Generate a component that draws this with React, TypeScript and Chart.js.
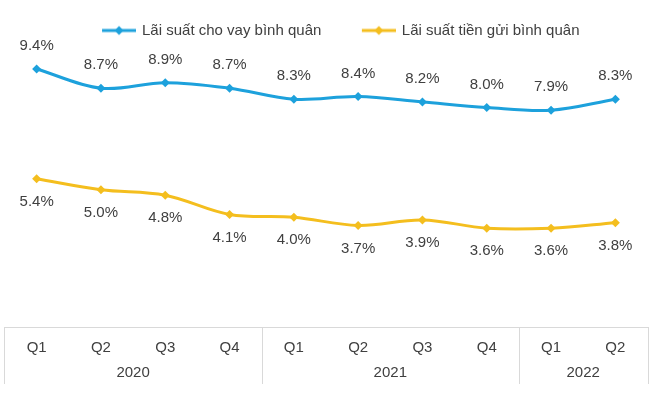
import { useEffect, useRef } from 'react';
import { Chart, registerables } from 'chart.js';

Chart.register(...registerables);

const quarters = ['Q1', 'Q2', 'Q3', 'Q4', 'Q1', 'Q2', 'Q3', 'Q4', 'Q1', 'Q2'];
const years = ['2020', '2021', '2022'];
const yearSpans = [4, 4, 2];
const lendingRates = [9.4, 8.7, 8.9, 8.7, 8.3, 8.4, 8.2, 8.0, 7.9, 8.3];
const depositRates = [5.4, 5.0, 4.8, 4.1, 4.0, 3.7, 3.9, 3.6, 3.6, 3.8];
const seriesNames = ['Lãi suất cho vay bình quân', 'Lãi suất tiền gửi bình quân'];
const seriesColors = ['#1DA1DC', '#F4BE1E'];

const FONT = "'Liberation Sans', Arial, sans-serif";
const FS = 15;
const TEXT = '#404040';
const GRID = '#D9D9D9';

function legendMarker(color: string): HTMLCanvasElement {
  const G = 29, L = 34, H = 12;
  const c = document.createElement('canvas');
  c.width = G + L;
  c.height = H;
  const ctx = c.getContext('2d')!;
  ctx.strokeStyle = color;
  ctx.lineWidth = 3;
  ctx.beginPath();
  ctx.moveTo(G, H / 2);
  ctx.lineTo(G + L, H / 2);
  ctx.stroke();
  ctx.fillStyle = color;
  const cx = G + L / 2, cy = H / 2, r = 4.5;
  ctx.beginPath();
  ctx.moveTo(cx, cy - r);
  ctx.lineTo(cx + r, cy);
  ctx.lineTo(cx, cy + r);
  ctx.lineTo(cx - r, cy);
  ctx.closePath();
  ctx.fill();
  return c;
}

const legendGap = {
  id: 'legendGap',
  afterInit(chart: any) {
    const lg = chart.legend;
    if (lg && !lg.__patched) {
      const orig = lg.fit.bind(lg);
      lg.fit = function () {
        orig();
        this.height += 4.5;
      };
      lg.__patched = true;
    }
  },
};

const valueLabels = {
  id: 'valueLabels',
  afterDatasetsDraw(chart: any) {
    const ctx = chart.ctx;
    ctx.save();
    ctx.font = `${FS}px ${FONT}`;
    ctx.fillStyle = TEXT;
    ctx.textAlign = 'center';
    ctx.textBaseline = 'middle';
    chart.data.datasets.forEach((ds: any, di: number) => {
      const meta = chart.getDatasetMeta(di);
      const off = di === 0 ? -23 : 23;
      meta.data.forEach((el: any, i: number) => {
        ctx.fillText(ds.data[i].toFixed(1) + '%', el.x, el.y + off);
      });
    });
    ctx.restore();
  },
};

const yearAxis = {
  id: 'yearAxis',
  afterDraw(chart: any) {
    const ctx = chart.ctx;
    const x = chart.scales.x;
    const top = chart.chartArea.bottom;
    const bottom = top + 57;
    const half = (x.getPixelForValue(1) - x.getPixelForValue(0)) / 2;
    ctx.save();
    ctx.strokeStyle = GRID;
    ctx.lineWidth = 1;
    ctx.font = `${FS}px ${FONT}`;
    ctx.fillStyle = TEXT;
    ctx.textAlign = 'center';
    ctx.textBaseline = 'middle';
    let start = 0;
    const drawSep = (px: number) => {
      const p = Math.round(px) + 0.5;
      ctx.beginPath();
      ctx.moveTo(p, top);
      ctx.lineTo(p, bottom);
      ctx.stroke();
    };
    drawSep(x.getPixelForValue(0) - half);
    years.forEach((y, gi) => {
      const end = start + yearSpans[gi] - 1;
      const a = x.getPixelForValue(start);
      const b = x.getPixelForValue(end);
      ctx.fillText(y, (a + b) / 2, top + 46);
      drawSep(b + half);
      start = end + 1;
    });
    ctx.restore();
  },
};

export default function App() {
  const ref = useRef<HTMLCanvasElement>(null);
  useEffect(() => {
    const markers = seriesColors.map(legendMarker);
    const baseGen = (Chart.defaults as any).plugins.legend.labels.generateLabels;
    const chart = new Chart(ref.current!, {
      type: 'line',
      data: {
        labels: quarters,
        datasets: [
          {
            label: seriesNames[0],
            data: lendingRates,
            borderColor: seriesColors[0],
            backgroundColor: seriesColors[0],
            borderWidth: 3,
            pointStyle: 'rectRot',
            pointRadius: 4.5,
            pointBorderWidth: 0,
            tension: 0.35,
          },
          {
            label: seriesNames[1],
            data: depositRates,
            borderColor: seriesColors[1],
            backgroundColor: seriesColors[1],
            borderWidth: 3,
            pointStyle: 'rectRot',
            pointRadius: 4.5,
            pointBorderWidth: 0,
            tension: 0.35,
          },
        ],
      },
      options: {
        responsive: false,
        maintainAspectRatio: false,
        animation: false,
        layout: { padding: { left: 3, right: 1, top: 10, bottom: 30 } },
        plugins: {
          tooltip: { enabled: false },
          legend: {
            position: 'top',
            labels: {
              usePointStyle: true,
              pointStyleWidth: 60,
              padding: 13,
              color: TEXT,
              font: { family: FONT, size: FS },
              generateLabels: (c: any) =>
                baseGen(c).map((it: any, i: number) => ({ ...it, pointStyle: markers[i] })),
            },
          },
        },
        scales: {
          x: {
            offset: true,
            grid: { display: false, drawTicks: false },
            border: { display: true, color: GRID, width: 1 },
            ticks: { color: TEXT, font: { family: FONT, size: FS }, padding: 12 },
          },
          y: {
            display: false,
            min: 0,
            max: 10,
          },
        },
      },
      plugins: [legendGap, valueLabels, yearAxis],
    });
    return () => chart.destroy();
  }, []);
  return (
    <div style={{ position: 'absolute', left: 0, top: 0, width: 652, height: 399, background: '#fff' }}>
      <canvas ref={ref} width={652} height={399} style={{ width: 652, height: 399 }} />
    </div>
  );
}
